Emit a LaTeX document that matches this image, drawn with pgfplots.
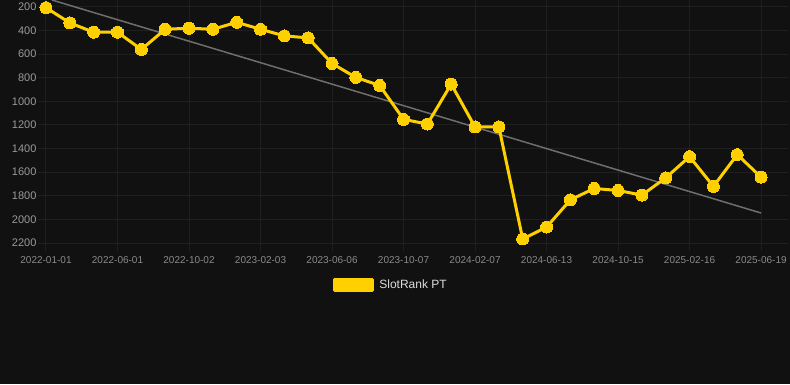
\documentclass[border=0pt]{standalone}
\usepackage{pgfplots}
\pgfplotsset{compat=1.18}
\usepackage{fontspec}
\setmainfont{Liberation Sans}
\definecolor{bg}{HTML}{111111}
\definecolor{gridc}{HTML}{1F1F1F}
\definecolor{yel}{HTML}{FFD000}
\definecolor{trend}{HTML}{6E6E6E}
\definecolor{ylab}{HTML}{9A9A9A}
\definecolor{xlab}{HTML}{8A8A8A}
\definecolor{legtext}{HTML}{DDDDDD}
\begin{document}
\begin{tikzpicture}[x=1pt,y=1pt]
\useasboundingbox (0,-384) rectangle (790,0);
\fill[bg] (0,-384) rectangle (790,0);
\begin{axis}[at={(46pt,0pt)}, anchor=north west, scale only axis,
  width=742pt, height=243pt,
  xmin=0, xmax=31.13, ymin=141, ymax=2200, y dir=reverse,
  clip=false,
  xtick={0,3,...,30},
  xticklabels={2022-01-01,2022-06-01,2022-10-02,2023-02-03,2023-06-06,2023-10-07,2024-02-07,2024-06-13,2024-10-15,2025-02-16,2025-06-19},
  ytick={200,400,...,2200},
  grid=major, major grid style={gridc, line width=1pt},
  axis line style={draw=none},
  tick align=outside, major tick length=8pt, tick pos=left,
  tick style={gridc, line width=1pt},
  /pgf/number format/assume math mode=true,
  /pgf/number format/1000 sep={},
  yticklabel style={font=\fontsize{11}{13}\selectfont, text=ylab, anchor=east, xshift=2pt},
  xticklabel style={font=\fontsize{10}{12}\selectfont, text=xlab, yshift=-1.5pt},
  legend image code/.code={\fill[yel] (0pt,-5.5pt) rectangle (38pt,5.5pt);},
  legend style={draw=none, fill=none, text=legtext, font=\fontsize{12}{14}\selectfont,
    at={(0.465,-0.171)}, anchor=center, legend cell align=left,
    /tikz/every odd column/.append style={column sep=3pt}},
]
\addplot[trend, line width=1.5pt, forget plot] coordinates {(0.25,141) (30,1946)};
\addplot[yel, line width=3pt, line join=round, mark=*, mark size=6pt,
  mark options={fill=yel, draw=yel, line width=0pt}] coordinates {
(0,206) (1,335) (2,414) (3,414) (4,560) (5,389) (6,380) (7,389) (8,330) (9,389)
(10,445) (11,462) (12,679) (13,797) (14,865) (15,1152) (16,1192) (17,854) (18,1217) (19,1217)
(20,2166) (21,2065) (22,1834) (23,1738) (24,1755) (25,1794) (26,1648) (27,1468) (28,1721) (29,1451)
(30,1642)};
\addlegendentry{SlotRank PT}
\end{axis}
\end{tikzpicture}
\end{document}
